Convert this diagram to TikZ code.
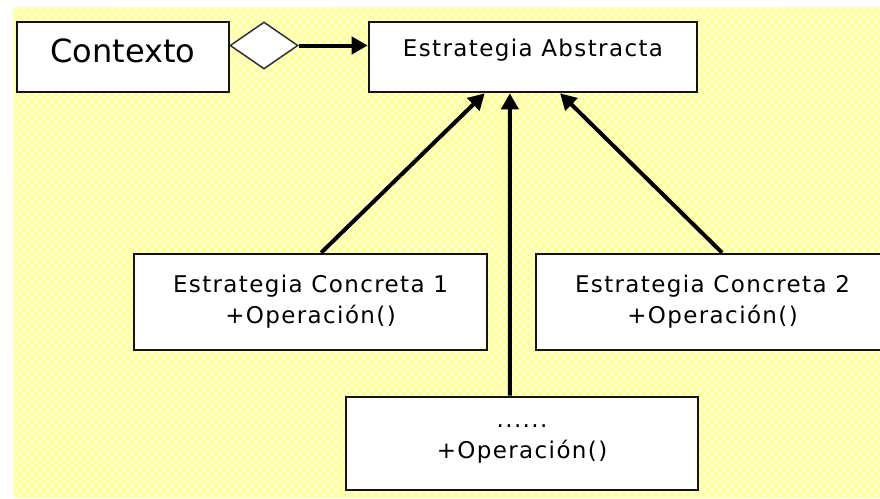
\documentclass[tikz,border=0pt]{standalone}
\usepackage{fontspec}
\setmainfont{DejaVu Sans}
\newfontfamily\umlfont[LetterSpace=6]{DejaVu Sans}
\usetikzlibrary{arrows.meta,shapes.geometric,patterns.meta,calc}

\definecolor{paper}{RGB}{255,255,150}
\definecolor{paperlight}{RGB}{255,255,215}
\definecolor{frame}{RGB}{20,20,20}
\definecolor{thinframe}{RGB}{50,50,50}

\tikzset{
  umlbox/.style={draw=frame, fill=white, line width=2.6pt, inner sep=0pt,
    align=center, text=black, font=\umlfont\fontsize{23}{31}\selectfont},
  gen/.style={draw=black, line width=4pt,
    -{Triangle[length=16pt,width=17pt]}},
  aggr/.style={diamond, draw=thinframe, fill=white, line width=1.5pt,
    inner sep=0pt, minimum width=68pt, minimum height=47pt}
}

\begin{document}
\begin{tikzpicture}[x=1pt,y=-1pt]
  \clip (0,0) rectangle (880,498);
  % page and cross-hatched backdrop
  \fill[white] (0,0) rectangle (880,498);
  \fill[paper] (13,7) rectangle (880,498);
  \fill[pattern={Lines[angle=45,distance=5.66pt,line width=1.3pt]},
        pattern color=paperlight] (13,7) rectangle (880,498);
  \fill[pattern={Lines[angle=-45,distance=5.66pt,line width=1.3pt]},
        pattern color=paperlight] (13,7) rectangle (880,498);

  % classes
  \node[umlbox, minimum width=212pt, minimum height=70pt,
        font=\fontsize{32}{38}\selectfont] (ctx) at (123,57)
        {\raisebox{-5pt}[0pt][0pt]{Contexto}};
  \node[umlbox, minimum width=328pt, minimum height=70pt] (abs) at (533,57)
        {\raisebox{1pt}[0pt][0pt]{Estrategia Abstracta}};
  \node[umlbox, minimum width=353pt, minimum height=96pt] (ec1) at (310.5,302)
        {Estrategia Concreta 1\\+Operación()};
  \node[umlbox, minimum width=353pt, minimum height=96pt] (ec2) at (712.5,302)
        {Estrategia Concreta 2\\+Operación()};
  \node[umlbox, minimum width=352pt, minimum height=93pt] (etc) at (522,443.5)
        {......\\+Operación()};

  % aggregation diamond on the context
  \node[aggr] (agg) at (264,45.5) {};
  \draw[gen] (agg.east) -- (agg.east -| abs.west);

  % generalisations
  \draw[gen] ($(ec1.north west)!0.53!(ec1.north east)$)
          -- ($(abs.south west)!0.354!(abs.south east)$);
  \draw[gen] ($(etc.north west)!0.466!(etc.north east)$)
          -- ($(abs.south west)!0.43!(abs.south east)$);
  \draw[gen] ($(ec2.north west)!0.527!(ec2.north east)$)
          -- ($(abs.south west)!0.582!(abs.south east)$);
\end{tikzpicture}
\end{document}
